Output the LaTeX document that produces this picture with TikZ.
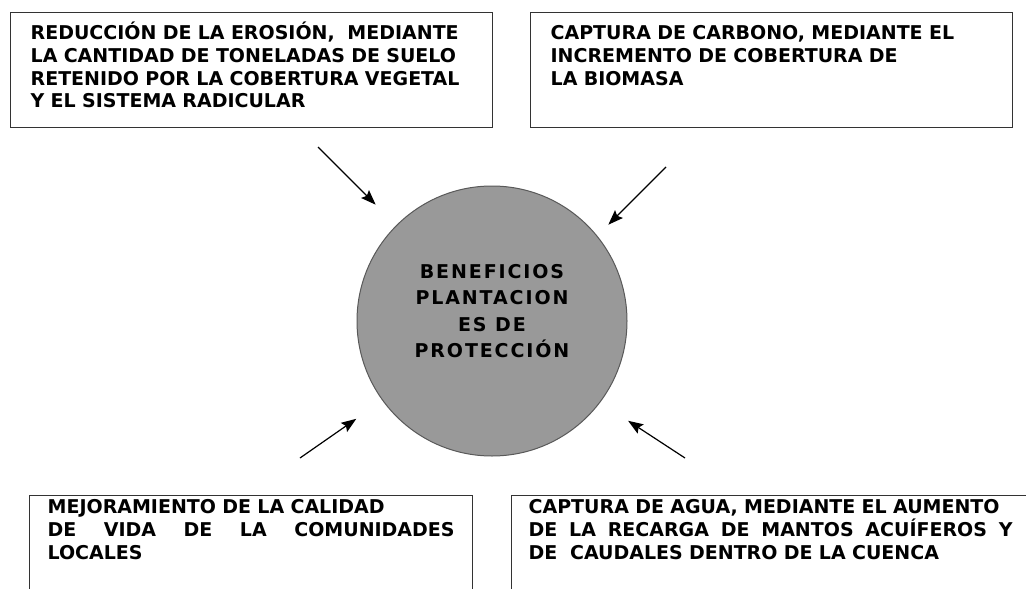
\documentclass[tikz,border=0pt]{standalone}
\usepackage{fontspec}
\setmainfont{DejaVu Sans}
\usetikzlibrary{arrows.meta, shapes}
\definecolor{hubgray}{HTML}{999999}

\begin{document}
\begin{tikzpicture}[x=1pt, y=-1pt,
  box/.style={draw=black!80, line width=1.3pt, rectangle, anchor=north west, align=left,
    inner ysep=11pt, text height=16pt, font=\bfseries\fontsize{19}{22.7}\selectfont},
  hub/.style={circle, draw=black!65, line width=1pt, fill=hubgray, minimum size=270pt,
    inner sep=0pt, align=center, text height=94pt, text depth=21pt,
    font=\bfseries\fontsize{19}{26.5}\selectfont\addfontfeature{LetterSpace=10}},
  arr/.style={-{Stealth[length=15pt, width=11pt, inset=2.5pt]}, line width=1.2pt}]
\clip (0,0) rectangle (1026,589);

\node[box, inner xsep=20pt, text width=442pt, text depth=77pt] (erosion) at (10,12)
  {REDUCCIÓN DE LA EROSIÓN,~ MEDIANTE\\LA CANTIDAD DE TONELADAS DE SUELO\\RETENIDO POR LA COBERTURA VEGETAL\\Y EL SISTEMA RADICULAR};
\node[box, inner xsep=20pt, text width=442pt, text depth=77pt] (carbono) at (530,12)
  {CAPTURA DE CARBONO, MEDIANTE EL\\INCREMENTO DE COBERTURA DE\\LA BIOMASA};
\node[box, inner xsep=18pt, inner ysep=2pt, text width=407pt, text depth=120pt] (vida) at (29,495)
  {MEJORAMIENTO DE LA CALIDAD\\DE\hfill VIDA\hfill DE\hfill LA\hfill COMUNIDADES\\LOCALES};
\node[box, inner xsep=17pt, inner ysep=2pt, text width=484pt, text depth=120pt] (agua) at (511,495)
  {CAPTURA DE AGUA, MEDIANTE EL AUMENTO\\DE\hfill LA\hfill RECARGA\hfill DE\hfill MANTOS\hfill ACUÍFEROS\hfill Y\\DE~ CAUDALES DENTRO DE LA CUENCA};

\node[hub] (hub) at (492,321) {BENEFICIOS\\PLANTACION\\ES DE\\PROTECCIÓN};

\coordinate (tl) at (318,147);
\coordinate (tr) at (666,167);
\coordinate (bl) at (300,458);
\coordinate (br) at (685,458);

\draw[arr, shorten >=29pt] (tl) -- (hub.135);
\draw[arr, shorten >=15.6pt] (tr) -- (hub.39);
\draw[arr, shorten >=31.8pt] (bl) -- (hub.216.4);
\draw[arr, shorten >=33.3pt] (br) -- (hub.323.7);
\end{tikzpicture}
\end{document}
